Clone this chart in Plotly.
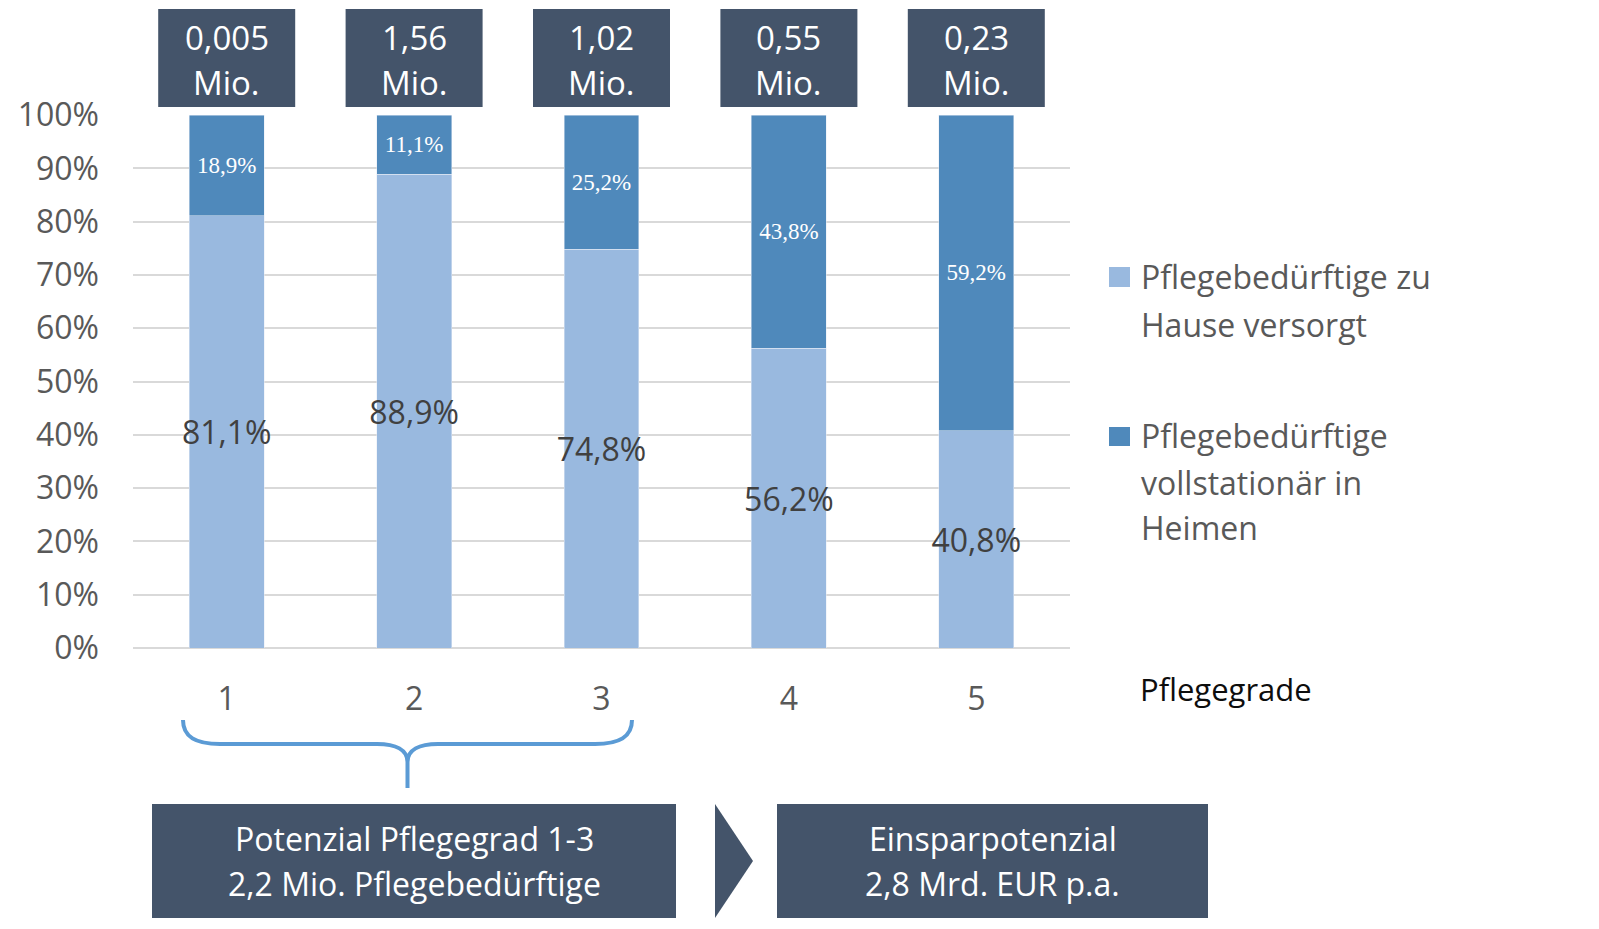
import plotly.graph_objects as go

# ---------------- data ----------------
pflegegrade = ["1", "2", "3", "4", "5"]
zu_hause = [81.1, 88.9, 74.8, 56.2, 40.8]          # Pflegebedürftige zu Hause versorgt (%)
heime = [18.9, 11.1, 25.2, 43.8, 59.2]             # Pflegebedürftige vollstationär in Heimen (%)
anzahl_mio = ["0,005", "1,56", "1,02", "0,55", "0,23"]  # Anzahl je Pflegegrad (Mio.)
y_tickvals = [0, 10, 20, 30, 40, 50, 60, 70, 80, 90, 100]
y_ticktext = [f"{v}%" for v in y_tickvals]
series_names = ["Pflegebedürftige zu Hause versorgt", "Pflegebedürftige vollstationär in Heimen"]
legend_lines = [["Pflegebedürftige zu", "Hause versorgt"],
                ["Pflegebedürftige", "vollstationär in", "Heimen"]]
box_left_lines = ["Potenzial Pflegegrad 1-3", "2,2 Mio. Pflegebedürftige"]
box_right_lines = ["Einsparpotenzial", "2,8 Mrd. EUR p.a."]
x_title = "Pflegegrade"

# ---------------- style ----------------
LIGHT = "#99B9DF"
DARK = "#4F89BB"
SLATE = "#44546A"
BRACE = "#5B9BD5"
GRID = "#D9D9D9"
GRAY = "#595959"
FONT = "Open Sans"

W, H = 1599, 929
PL, PT, PW, PH = 133, 115, 937, 533


def px(x):
    return (x - PL) / PW


def py(y):
    return (PT + PH - y) / PH


def pct(v):
    return f"{v:.1f}".replace(".", ",") + "%"


fig = go.Figure()
fig.add_trace(go.Bar(
    x=pflegegrade, y=zu_hause, name=series_names[0], marker_color=LIGHT,
    text=[pct(v) for v in zu_hause], textposition="inside", insidetextanchor="middle",
    textangle=0, constraintext="none",
    textfont=dict(family=FONT, size=32, color="#404040"),
    showlegend=False, hoverinfo="x+y+name",
))
fig.add_trace(go.Bar(
    x=pflegegrade, y=heime, name=series_names[1], marker_color=DARK,
    text=[pct(v) for v in heime], textposition="inside", insidetextanchor="middle",
    textangle=0, constraintext="none",
    textfont=dict(family="Liberation Serif", size=23, color="white"),
    showlegend=False, hoverinfo="x+y+name",
))

shapes = []
annotations = []

# top boxes with counts
half = 137 / 2 / (PW / len(pflegegrade))
for i, val in enumerate(anzahl_mio):
    shapes.append(dict(type="rect", xref="x", yref="paper",
                       x0=i - half, x1=i + half, y0=py(107), y1=py(9),
                       fillcolor=SLATE, line=dict(width=0), layer="above"))
    for txt, yc in ((val, 37), ("Mio.", 82)):
        annotations.append(dict(x=i, xref="x", y=py(yc), yref="paper",
                                text=txt, showarrow=False, xanchor="center", yanchor="middle",
                                font=dict(family=FONT, size=33, color="white")))

# x-axis title
annotations.append(dict(x=px(1138), y=py(689), xref="paper", yref="paper", text=x_title,
                        showarrow=False, xanchor="left", yanchor="middle",
                        font=dict(family=FONT, size=31, color="#0D0D0D")))

# legend (manual)
legend_colors = [LIGHT, DARK]
legend_marker_y = [(267, 287), (427, 446)]
legend_line_y = [[276, 324], [435, 482, 527]]
for col, (m0, m1), lines, ys in zip(legend_colors, legend_marker_y, legend_lines, legend_line_y):
    shapes.append(dict(type="rect", xref="paper", yref="paper",
                       x0=px(1109), x1=px(1130), y0=py(m1), y1=py(m0),
                       fillcolor=col, line=dict(width=0)))
    for txt, yc in zip(lines, ys):
        annotations.append(dict(x=px(1139), y=py(yc), xref="paper", yref="paper", text=txt,
                                showarrow=False, xanchor="left", yanchor="middle",
                                font=dict(family=FONT, size=32, color=GRAY)))

# curly brace
def P(x, y):
    return f"{px(x):.5f},{py(y):.5f}"

brace_path = (f"M {P(183,720)} C {P(183,737)} {P(196,744)} {P(220,744)} L {P(377,744)} "
              f"C {P(396,744)} {P(407.5,750)} {P(407.5,762)} L {P(407.5,788)} "
              f"M {P(407.5,762)} C {P(407.5,750)} {P(419,744)} {P(438,744)} L {P(595,744)} "
              f"C {P(619,744)} {P(632,737)} {P(632,720)}")
shapes.append(dict(type="path", xref="paper", yref="paper", path=brace_path,
                   line=dict(color=BRACE, width=4)))

# bottom boxes and chevron
shapes.append(dict(type="rect", xref="paper", yref="paper", x0=px(152), x1=px(676),
                   y0=py(918), y1=py(804), fillcolor=SLATE, line=dict(width=0)))
shapes.append(dict(type="rect", xref="paper", yref="paper", x0=px(777), x1=px(1208),
                   y0=py(918), y1=py(804), fillcolor=SLATE, line=dict(width=0)))
shapes.append(dict(type="path", xref="paper", yref="paper",
                   path=f"M {P(715,804)} L {P(753,861)} L {P(715,918)} Z",
                   fillcolor=SLATE, line=dict(width=0)))
for lines, xc in ((box_left_lines, 414), (box_right_lines, 992.5)):
    for txt, yc in zip(lines, (838, 883)):
        annotations.append(dict(x=px(xc), y=py(yc), xref="paper", yref="paper", text=txt,
                                showarrow=False, xanchor="center", yanchor="middle",
                                font=dict(family=FONT, size=32, color="white")))

fig.update_layout(
    width=W, height=H,
    margin=dict(l=PL, r=W - PL - PW, t=PT, b=H - PT - PH, pad=0),
    paper_bgcolor="white", plot_bgcolor="white",
    barmode="stack", bargap=0.6,
    font=dict(family=FONT, color=GRAY),
    showlegend=False,
    shapes=shapes, annotations=annotations,
    xaxis=dict(type="category", range=[-0.5, 4.5], showgrid=False, zeroline=False,
               showline=False, ticks="", ticklabelstandoff=29,
               tickfont=dict(family=FONT, size=32, color=GRAY)),
    yaxis=dict(range=[0, 100], tickvals=y_tickvals, ticktext=y_ticktext,
               showgrid=True, gridcolor=GRID, gridwidth=2,
               zeroline=True, zerolinecolor=GRID, zerolinewidth=2,
               showline=False, ticks="", ticklabelstandoff=33,
               tickfont=dict(family=FONT, size=32, color=GRAY)),
)

fig.write_html("out.html", config={"displayModeBar": False},
               post_script="document.body.style.margin='0';document.body.style.overflow='hidden';")
